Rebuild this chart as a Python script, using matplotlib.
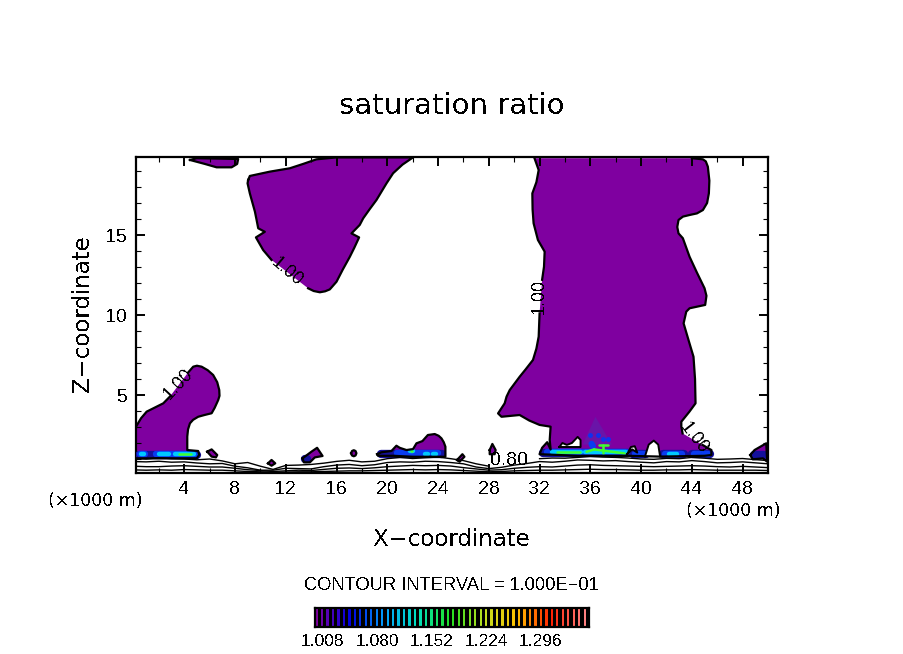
import numpy as np
import matplotlib
matplotlib.use('Agg')
import matplotlib.pyplot as plt
from matplotlib.colors import LinearSegmentedColormap

nan = float('nan')

x_ticks = [4, 8, 12, 16, 20, 24, 28, 32, 36, 40, 44, 48]
z_ticks = [5, 10, 15]

# saturation = 1.00 outlines (x km, z km), nan = gap left for a contour label
plume = [(31.6, 19.8), (31.93, 19.06), (31.75, 18.3), (31.43, 17.6), (31.45, 16.6), (31.53, 15.73),
         (31.87, 14.69), (32.4, 13.96), (32.35, 13.02), (32.2, 12.2), (nan, nan), (32.0, 10.1),
         (31.93, 8.65), (31.75, 7.9), (31.48, 7.19), (30.9, 6.6), (30.43, 6.14), (29.65, 5.31),
         (29.4, 4.9), (29.25, 4.48), (28.73, 3.85), (29.0, 3.64), (30.43, 3.75), (31.2, 3.4),
         (32.0, 3.13), (32.87, 3.02), (32.8, 2.19), (32.87, 1.6), (32.6, 2.05), (32.2, 1.7),
         (32.0, 1.3), (35.0, 1.2), (39.0, 1.2), (41.5, 1.15), (45.0, 1.2), (45.54, 1.25),
         (45.54, 1.56), (44.84, 1.88), (nan, nan), (43.27, 2.6), (43.17, 3.02), (43.17, 3.33),
         (43.8, 3.95), (44.29, 4.48), (44.25, 6.0), (44.13, 7.39), (43.75, 8.4), (43.35, 9.48),
         (43.56, 10.21), (43.82, 10.42), (45.05, 10.63), (45.15, 11.2), (45.0, 11.67),
         (44.4, 12.65), (43.82, 13.64), (43.29, 14.8), (42.95, 15.1), (42.85, 15.5), (42.95, 15.94),
         (43.3, 16.15), (43.82, 16.25), (44.4, 16.35), (44.87, 16.56), (45.2, 17.0), (45.34, 17.6),
         (45.38, 18.4), (45.26, 19.27), (45.1, 19.6), (44.87, 19.73), (44.0, 19.8)]
top_blob = [(9.04, 18.44), (9.17, 18.69), (10.75, 18.96), (12.32, 19.17), (13.4, 19.45), (14.42, 19.73),
            (16.0, 19.85), (22.03, 19.85), (21.2, 19.4), (20.46, 18.86), (19.94, 18.23), (19.15, 17.19),
            (18.6, 16.6), (18.1, 16.04), (17.83, 15.63), (17.18, 15.1), (17.78, 14.85), (17.4, 14.2),
            (17.05, 13.64), (16.5, 12.85), (16.0, 12.08), (15.47, 11.6), (15.1, 11.48), (14.69, 11.42),
            (14.2, 11.5), (13.76, 11.67), (nan, nan), (10.88, 13.44), (10.22, 14.06), (9.65, 14.85),
            (10.35, 15.2), (9.83, 15.42), (9.7, 15.95), (9.57, 16.46), (9.17, 17.6), (8.99, 18.23),
            (9.04, 18.44)]
left_blob = [(0.2, 3.02), (0.6, 3.55), (1.04, 3.96), (2.35, 4.48), (2.87, 4.9), (nan, nan), (4.3, 6.4),
             (4.71, 6.77), (5.0, 6.83), (5.37, 6.77), (5.85, 6.55), (6.28, 6.25), (6.6, 5.8), (6.76, 5.31),
             (6.78, 4.95), (6.68, 4.69), (6.4, 4.2), (6.16, 3.86), (5.6, 3.75), (5.1, 3.64), (4.7, 3.45),
             (4.45, 3.23), (4.3, 2.85), (4.24, 2.4), (4.24, 1.56), (5.1, 1.5), (5.18, 1.25), (4.98, 1.04),
             (0.2, 1.04)]
corner_blob = [(4.45, 19.69), (4.98, 19.8), (8.25, 19.75), (8.17, 19.44), (7.73, 19.23),
               (6.55, 19.23), (5.63, 19.44), (4.45, 19.69)]
blob_a = [(5.81, 1.46), (6.16, 1.6), (6.6, 1.25), (6.5, 1.1), (6.16, 1.15), (5.81, 1.46)]
blob_b = [(10.6, 0.73), (10.88, 0.94), (11.17, 0.73), (10.88, 0.58), (10.6, 0.73)]
blob_c = [(13.32, 1.04), (14.03, 1.46), (14.47, 1.7), (14.9, 1.19), (14.29, 1.1), (13.9, 0.79),
          (13.43, 0.79), (13.32, 1.04)]
blob_d = [(17.15, 1.36), (17.22, 1.5), (17.36, 1.55), (17.5, 1.5), (17.57, 1.36), (17.5, 1.22),
          (17.36, 1.17), (17.22, 1.22), (17.15, 1.36)]
blob_e = [(19.2, 1.3), (19.54, 1.42), (20.33, 1.5), (20.72, 1.83), (20.98, 1.7), (21.51, 1.56),
          (22.03, 1.62), (22.3, 1.98), (22.77, 2.12), (23.2, 2.5), (23.74, 2.56), (24.05, 2.45),
          (24.27, 2.29), (24.45, 2.05), (24.58, 1.77), (24.58, 1.14), (22.03, 1.14), (20.46, 1.2),
          (19.28, 1.2), (19.2, 1.3)]
blob_f = [(25.5, 0.94), (25.92, 1.3), (26.08, 1.14), (25.7, 0.83), (25.5, 0.94)]
blob_g = [(28.07, 1.56), (28.28, 1.94), (28.54, 1.56), (28.46, 1.3), (28.07, 1.3), (28.07, 1.56)]
blob_h = [(48.6, 1.25), (48.94, 1.56), (49.86, 1.98), (49.94, 0.83), (49.6, 1.04), (48.8, 0.98),
          (48.6, 1.25)]
blobs = [plume, top_blob, left_blob, corner_blob, blob_a, blob_b, blob_c, blob_d, blob_e,
         blob_f, blob_g, blob_h]

# unsaturated pockets cut into the base of the plume
hole_a = [(33.56, 1.75), (33.8, 2.0), (34.15, 1.88), (34.55, 2.0), (35.0, 2.38), (35.23, 2.19),
          (35.23, 1.75), (33.56, 1.75)]
hole_b = [(40.3, 1.15), (40.6, 1.9), (41.0, 2.15), (41.35, 1.9), (41.5, 1.15)]
hole_c = [(38.9, 1.3), (39.2, 1.75), (39.5, 1.8), (39.7, 1.4), (39.3, 1.6), (38.9, 1.3)]
holes = [hole_a, hole_b, hole_c]

moist_core = [(36.4, 3.64), (37.7, 1.9), (35.4, 1.9)]
moist_dots_x = [35.94, 36.57, 36.97, 37.36]
moist_dots_z = [2.5, 2.5, 2.25, 2.25]

# supersaturated bands near cloud base: (x start, x end, z start, z end)
navy_bands = [(0.4, 5.0, 1.28, 1.28), (19.5, 24.3, 1.32, 1.32), (32.3, 39.0, 1.38, 1.38),
              (39.4, 40.4, 1.3, 1.3), (41.7, 43.4, 1.3, 1.3), (44.0, 45.4, 1.32, 1.32),
              (48.9, 49.7, 1.22, 1.22), (13.5, 13.7, 0.98, 0.98)]
blue_bands = [(0.5, 0.9, 1.3, 1.3), (1.8, 3.0, 1.3, 1.3), (3.1, 4.9, 1.3, 1.3),
              (20.8, 24.0, 1.35, 1.35), (32.6, 38.9, 1.42, 1.42), (39.5, 40.3, 1.3, 1.3),
              (41.9, 43.2, 1.3, 1.3), (44.2, 45.3, 1.3, 1.3), (36.1, 36.2, 1.94, 1.8)]
cyan_bands = [(0.6, 0.8, 1.3, 1.3), (2.0, 2.8, 1.3, 1.3), (3.3, 4.8, 1.3, 1.3),
              (21.8, 22.0, 1.5, 1.5), (23.0, 23.2, 1.3, 1.3), (23.6, 23.8, 1.3, 1.3),
              (33.0, 35.3, 1.42, 1.42), (35.6, 38.8, 1.45, 1.45), (42.2, 42.8, 1.3, 1.3)]
green_bands = [(3.6, 4.5, 1.3, 1.3), (21.85, 21.95, 1.5, 1.5), (23.1, 23.1, 1.3, 1.3),
               (33.4, 35.2, 1.42, 1.42), (35.7, 36.3, 1.45, 1.6), (36.3, 38.7, 1.6, 1.35),
               (36.7, 37.4, 1.9, 1.9), (37.0, 37.0, 1.9, 1.4)]

# lower contours along the surface, one value per km
low_x = list(range(51))
low_1 = [1.05, 1.0, 1.08, 1.02, 1.0, .95, 1.0, .88, .7, .78, .55, .35, .6, .62, .66, .74, .85, .92, .82, .86,
         1.02, 1.1, 1.03, 1.08, 1.12, 1.02, .9, .7, .55, nan, nan, nan, 1.02, 1.06, 1.05, 1.1, 1.16, 1.12,
         1.1, 1.06, 1.0, .98, 1.04, 1.02, 1.1, 1.05, .98, 1.0, 1.03, .96, .9]
low_2 = [.84, .82, .86, .8, .82, .75, .7, .72, .55, .45, .3, .3, .42, .4, .38, .52, .62, .66, .58, .64,
         .78, .82, .8, .86, .84, .78, .7, .5, .4, .48, .62, .72, .84, .8, .86, .94, .92, .88, .9, .84,
         .8, .76, .84, .82, .9, .84, .76, .78, .82, .76, .7]
low_3 = [.55, .52, .52, .56, .58, .54, .5, .5, .42, .33, .28, .22, .26, .3, .28, .35, .42, .44, .4,
         .45, .52, .56, .6, .58, .6, .56, .46, .38, .3, .33, .42, .48, .52, .5, .56, .62, .64, .6, .58,
         .56, .54, .52, .54, .56, .58, .56, .52, .5, .54, .5, .46]
low_4 = [.32, .3, .32, .3, .34, .32, .3, .3, .26, .22, .2, .18, .18, .2, .2, .22, .24, .26, .26,
         .28, .3, .32, .34, .32, .34, .32, .28, .24, .2, .22, .26, .28, .3, .3, .32, .34, .36, .34, .34,
         .32, .3, .3, .32, .32, .34, .32, .3, .3, .3, .3, .28]

bar_levels = [1.008 + 0.0072 * i for i in range(50)]
bar_labels = ['1.008', '1.080', '1.152', '1.224', '1.296']
bar_colors = ['#7f00a0', '#0000e0', '#00a0ff', '#00e0c0', '#20e020', '#c0e020', '#ffc000',
              '#ff2000', '#ff8080']

PURPLE = '#7f00a0'
plt.rcParams['font.family'] = ['Liberation Sans', 'DejaVu Sans']
plt.rcParams['text.antialiased'] = False

fig = plt.figure(figsize=(9.04, 6.54), dpi=100)
ax = fig.add_axes([136 / 904, 1 - 473 / 654, 632 / 904, 316 / 654])

for blob in blobs:
    pts = np.array(blob)
    keep = ~np.isnan(pts[:, 0])
    ax.fill(pts[keep, 0], pts[keep, 1], color=PURPLE, lw=0, zorder=1)
    ax.plot(pts[:, 0], pts[:, 1], color='black', lw=1.6, solid_joinstyle='round', zorder=4)

px, pz = zip(*moist_core)
ax.fill(px, pz, color='#6a14a8', lw=0, zorder=1.5)
ax.plot(moist_dots_x, moist_dots_z, ls='none', marker='o', ms=2.5, color='#1030f0', zorder=2)

for bands, col, lw in [(navy_bands, '#14109c', 6), (blue_bands, '#0a3cf0', 4.6),
                       (cyan_bands, '#00c8ff', 3.2), (green_bands, '#40ff30', 1.8)]:
    for x0, x1, z0, z1 in bands:
        ax.plot([x0, x1], [z0, z1], color=col, lw=lw, solid_capstyle='round', zorder=3)

for hole in holes:
    hx, hz = zip(*hole)
    ax.fill(hx, hz, color='white', lw=0, zorder=3.5)
    ax.plot(hx, hz, color='black', lw=1.4, zorder=4)

for low in [low_1, low_2, low_3, low_4]:
    ax.plot(low_x, low, color='black', lw=1.0, zorder=4)

ax.text(3.5, 5.7, '1.00', rotation=47, ha='center', va='center', fontsize=13, zorder=5)
ax.text(12.06, 12.7, '1.00', rotation=-40, ha='center', va='center', fontsize=13, zorder=5)
ax.text(32.0, 11.15, '1.00', rotation=90, ha='center', va='center', fontsize=13, zorder=5)
ax.text(44.2, 2.3, '1.00', rotation=-52, ha='center', va='center', fontsize=13, zorder=5)
ax.text(29.6, 0.88, '0.80', ha='center', va='center', fontsize=14, zorder=5)

ax.set_xlim(0.2, 50)
ax.set_ylim(0.125, 19.875)
ax.set_xticks(x_ticks)
ax.set_xticks(range(2, 50, 4), minor=True)
ax.set_yticks(z_ticks)
ax.set_yticks([z for z in range(1, 20) if z not in z_ticks], minor=True)
ax.tick_params(which='major', direction='in', top=True, right=True, length=6.5, width=1.4,
               labelsize=14, pad=6)
ax.tick_params(which='minor', direction='in', top=True, right=True, length=3.4, width=0.8)
for side in ax.spines.values():
    side.set_linewidth(1.6)

fig.text(452 / 904, 1 - 105.5 / 654, 'saturation ratio', ha='center', va='center', fontsize=21,
         family='DejaVu Sans')
fig.text(452 / 904, 1 - 540 / 654, 'X\u2212coordinate', ha='center', va='center', fontsize=16.5,
         family='DejaVu Sans')
fig.text(83 / 904, 1 - 314 / 654, 'Z\u2212coordinate', ha='center', va='center', fontsize=16.5,
         rotation=90, family='DejaVu Sans')
fig.text(95.5 / 904, 1 - 501 / 654, '(\u00d71000 m)', ha='center', va='center', fontsize=12.5,
         family='DejaVu Sans')
fig.text(733.5 / 904, 1 - 511 / 654, '(\u00d71000 m)', ha='center', va='center', fontsize=12.5,
         family='DejaVu Sans')
fig.text(451 / 904, 1 - 586 / 654, 'CONTOUR INTERVAL = 1.000E\u221201', ha='center', va='center',
         fontsize=13.2)

# colour key: thin coloured strokes on black
cax = fig.add_axes([315 / 904, 1 - 627 / 654, 274 / 904, 19 / 654], facecolor='black')
cmap = LinearSegmentedColormap.from_list('key', bar_colors)
cax.bar(bar_levels, [1] * len(bar_levels), width=0.0072 * 0.42, align='edge',
        color=[cmap(i / (len(bar_levels) - 1)) for i in range(len(bar_levels))])
cax.set_xlim(bar_levels[0] - 0.0005, bar_levels[-1] + 0.0072)
cax.set_ylim(0, 1)
cax.set_xticks([])
cax.set_yticks([])
for side in cax.spines.values():
    side.set_linewidth(1.6)

for i, lab in enumerate(bar_labels):
    fig.text((322.5 + 54.5 * i) / 904, 1 - 641 / 654, lab, ha='center', va='center', fontsize=12.5)

fig.savefig('out.png', dpi=100)
